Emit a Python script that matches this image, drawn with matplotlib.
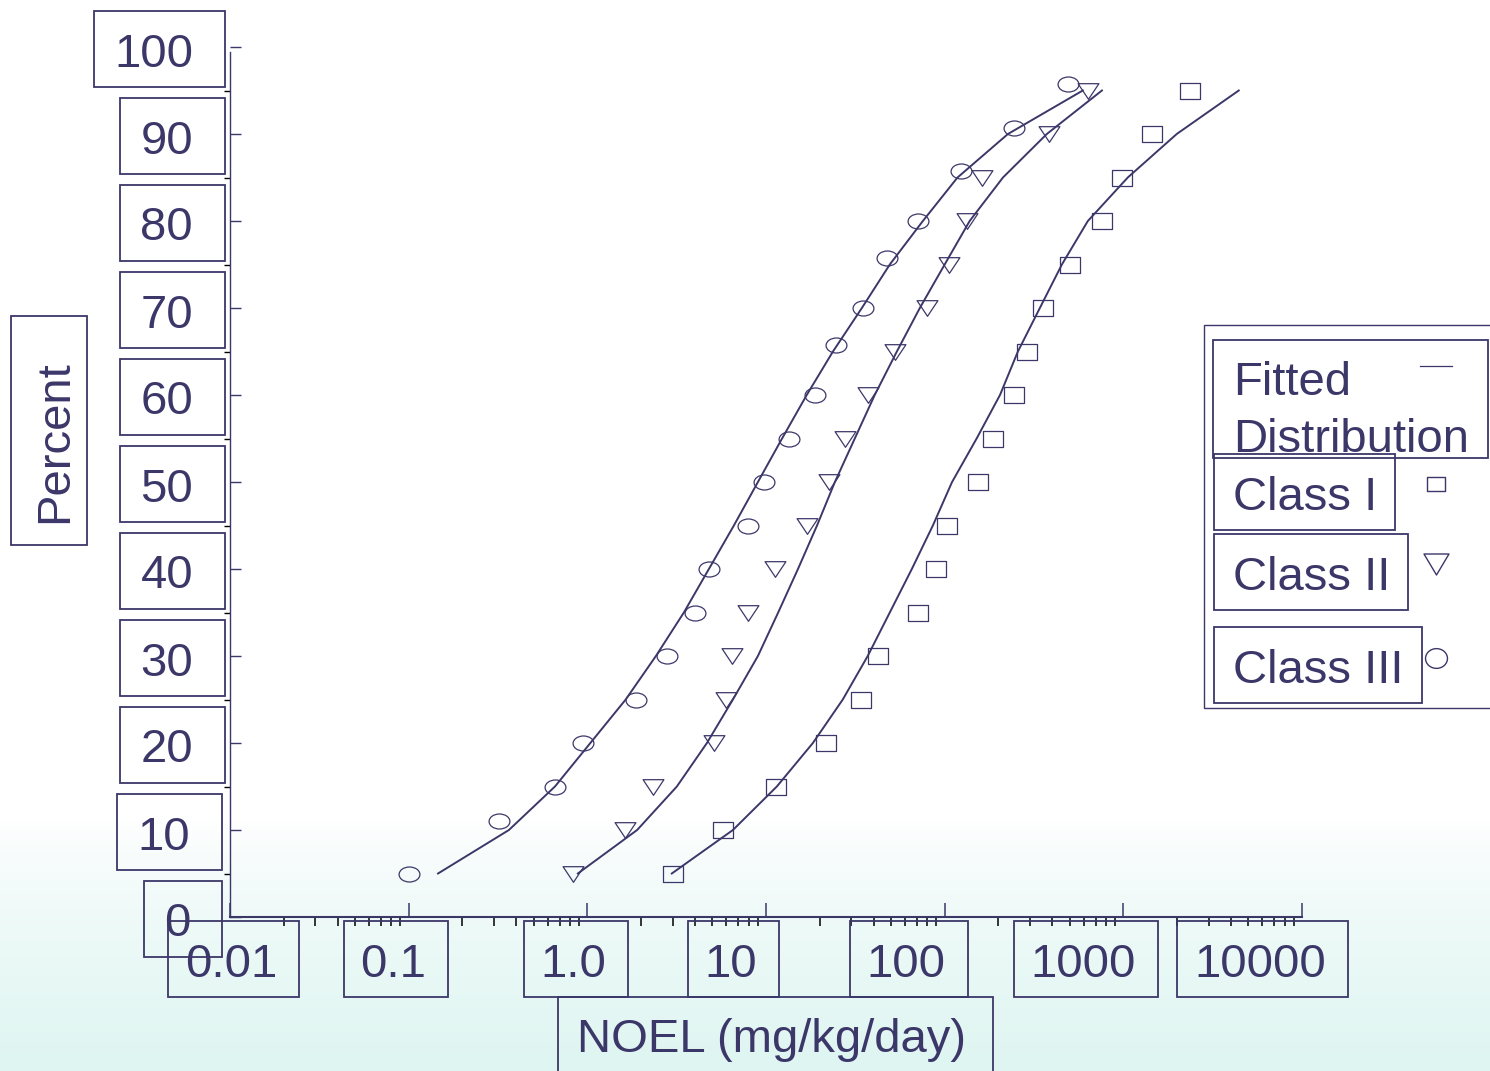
import numpy as np
import matplotlib
matplotlib.use('Agg')
import matplotlib.pyplot as plt
from matplotlib.path import Path
from matplotlib.patches import Rectangle
from matplotlib.lines import Line2D
from matplotlib.ticker import LogLocator, MultipleLocator, NullFormatter

plt.rcParams['font.family'] = ['Liberation Sans', 'DejaVu Sans']

# percent levels (Class I / II points and all fitted curves)
pct = [5, 10, 15, 20, 25, 30, 35, 40, 45, 50, 55, 60, 65, 70, 75, 80, 85, 90, 95]
pct_class3 = [5, 11, 15, 20, 25, 30, 35, 40, 45, 50, 55, 60, 65.7, 70, 75.8, 80, 85.7, 90.7, 95.7]

# observed NOELs (mg/kg/day)
noel_class1 = [3.01, 5.74, 11.4, 21.6, 34.0, 42.3, 70.8, 89.3, 103, 153, 186, 244, 288, 354, 502, 758, 981, 1443, 2356]
noel_class2 = [0.83, 1.62, 2.33, 5.11, 5.97, 6.45, 7.92, 11.2, 16.9, 22.5, 27.6, 37.2, 52.6, 79.5, 106, 133, 162, 383, 633]
noel_class3 = [0.10, 0.32, 0.66, 0.95, 1.87, 2.79, 4.0, 4.79, 7.92, 9.73, 13.4, 18.8, 24.6, 34.9, 47.5, 70.8, 123, 244, 489]

# fitted distributions
fit_class1 = [2.97, 6.53, 11.5, 18.3, 26.9, 37.1, 49.3, 65.5, 85.9, 110, 151, 204, 257, 341, 453, 633, 1059, 1990, 4426]
fit_class2 = [0.885, 1.90, 3.17, 4.67, 6.53, 9.01, 11.7, 15.1, 19.3, 24.3, 31.4, 40.6, 54.0, 72.6, 100, 138, 212, 373, 759]
fit_class3 = [0.146, 0.364, 0.659, 1.04, 1.64, 2.42, 3.47, 4.79, 6.61, 9.01, 12.3, 16.9, 23.7, 34.4, 49.3, 75.5, 118, 226, 593]

xtick_vals = [0.01, 0.1, 1, 10, 100, 1000, 10000]
xtick_labels = ['0.01', '0.1', '1.0', '10', '100', '1000', '10000']
ytick_vals = list(range(0, 101, 10))
legend_labels = ['Fitted\nDistribution', 'Class I', 'Class II', 'Class III']

ink = '#3c3769'
W, H = 1490, 1071
FS = 34


def fx(x):
    return x / W


def fy(y):
    return 1 - y / H


def rect_px(x0, y0, x1, y1, lw=1.3):
    fig.add_artist(Rectangle((fx(x0), fy(y1)), (x1 - x0) / W, (y1 - y0) / H,
                             transform=fig.transFigure, fill=False, ec=ink, lw=lw))


def marker_path(kind, aspect):
    if kind == 'o':
        c = Path.unit_circle()
        return Path(c.vertices * [1, aspect], c.codes)
    if kind == 's':
        v = [(-1, -aspect), (1, -aspect), (1, aspect), (-1, aspect), (-1, -aspect)]
    else:
        v = [(-1, aspect), (1, aspect), (0, -aspect), (-1, aspect)]
    return Path(v, closed=True)


fig = plt.figure(figsize=(14.9, 10.71), dpi=100)

# background: white fading into pale cyan at the bottom
bg = fig.add_axes([0, 0, 1, 1], zorder=-10)
rows = np.arange(H)
t = np.clip((rows - 820) / (H - 820), 0, 1) ** 0.75
top = np.array([1.0, 1.0, 1.0])
bot = np.array([222, 245, 241]) / 255
grad = (1 - t)[:, None] * top + t[:, None] * bot
bg.imshow(grad[:, None, :], aspect='auto', extent=[0, 1, 0, 1])
bg.axis('off')

ax = fig.add_axes([230 / W, (H - 917) / H, 1072 / W, 870 / H])
ax.patch.set_alpha(0)
ax.set_xscale('log')
ax.set_xlim(0.01, 10000)
ax.set_ylim(0, 100)

ms = 15
ax.plot(noel_class1, pct, ls='none', marker=marker_path('s', 0.76), ms=ms,
        mfc='none', mec=ink, mew=0.9)
ax.plot(noel_class2, pct, ls='none', marker=marker_path('v', 0.75), ms=ms,
        mfc='none', mec=ink, mew=0.9)
ax.plot(noel_class3, pct_class3, ls='none', marker=marker_path('o', 0.72), ms=ms,
        mfc='none', mec=ink, mew=0.9)
for fit in (fit_class1, fit_class2, fit_class3):
    ax.plot(fit, pct, color=ink, lw=1.4)

for s in ('top', 'right'):
    ax.spines[s].set_visible(False)
ax.spines['left'].set_color(ink)
ax.spines['left'].set_linewidth(1.0)
ax.spines['left'].set_bounds(0, 99.4)
ax.spines['bottom'].set_color(ink)
ax.spines['bottom'].set_linewidth(1.5)

ax.set_yticks(ytick_vals)
ax.yaxis.set_minor_locator(MultipleLocator(5))
ax.set_xticks(xtick_vals)
ax.xaxis.set_minor_locator(LogLocator(base=10, subs=np.arange(2, 10), numticks=20))
ax.xaxis.set_minor_formatter(NullFormatter())
ax.tick_params(labelleft=False, labelbottom=False, color=ink, direction='in')
ax.tick_params(axis='y', which='major', length=7.9, width=1.0)
ax.tick_params(axis='y', which='minor', length=4.3, width=1.0)
ax.tick_params(axis='x', which='major', length=10, width=1.1)
ax.tick_params(axis='x', which='minor', length=6.5, width=1.1)

fig.canvas.draw()
renderer = fig.canvas.get_renderer()


def boxed_text(x, base, s, ha, pad_l, pad_r, y0, y1, **kw):
    txt = fig.text(fx(x), fy(base), s, ha=ha, va='baseline', fontsize=FS, color=ink, **kw)
    bb = txt.get_window_extent(renderer)
    rect_px(bb.x0 - pad_l, y0, bb.x1 + pad_r, y1)
    return txt


# y tick labels in boxes
to_px_y = lambda v: 917 - v * 8.7
for v in ytick_vals:
    yc = to_px_y(v)
    right = 190 if v <= 10 else 193
    boxed_text(right, yc + 19.5, str(v), 'right', 20, 32, yc + 1.5 - 38, yc + 1.5 + 38)

# x tick labels in boxes
xlab_centers = [231, 393.5, 573.5, 731, 906, 1083.5, 1260]
for cx, lab in zip(xlab_centers, xtick_labels):
    boxed_text(cx, 977, lab, 'center', 17, 22, 921, 997)

# axis titles
boxed_text(577, 1052, 'NOEL (mg/kg/day)', 'left', 19, 27, 997, 1090)
fig.text(fx(67), fy(442), 'Percent', rotation=90, rotation_mode='anchor',
         ha='center', va='baseline', fontsize=FS, color=ink)
rect_px(11, 316, 87, 545)

# legend
rect_px(1204, 325, 1500, 708, lw=1.0)
fig.text(fx(1233), fy(395), 'Fitted', ha='left', va='baseline', fontsize=FS, color=ink)
fig.text(fx(1233), fy(452), 'Distribution', ha='left', va='baseline', fontsize=FS, color=ink)
rect_px(1213, 340, 1488, 458)
boxed_text(1233, 510, legend_labels[1], 'left', 19, 18, 454, 530)
boxed_text(1233, 590, legend_labels[2], 'left', 19, 18, 534, 610)
boxed_text(1233, 683, legend_labels[3], 'left', 19, 18, 627, 703)

fig.add_artist(Line2D([fx(1420), fx(1452)], [fy(366), fy(366)], transform=fig.transFigure,
                      color=ink, lw=0.9))
for (kind, asp, size, yy) in [('s', 0.78, 13, 484), ('v', 0.84, 18, 564), ('o', 0.9, 15.8, 658)]:
    fig.add_artist(Line2D([fx(1436)], [fy(yy)], transform=fig.transFigure, ls='none',
                          marker=marker_path(kind, asp), ms=size, mfc='none', mec=ink, mew=1.0))

fig.savefig('out.png', dpi=100)
